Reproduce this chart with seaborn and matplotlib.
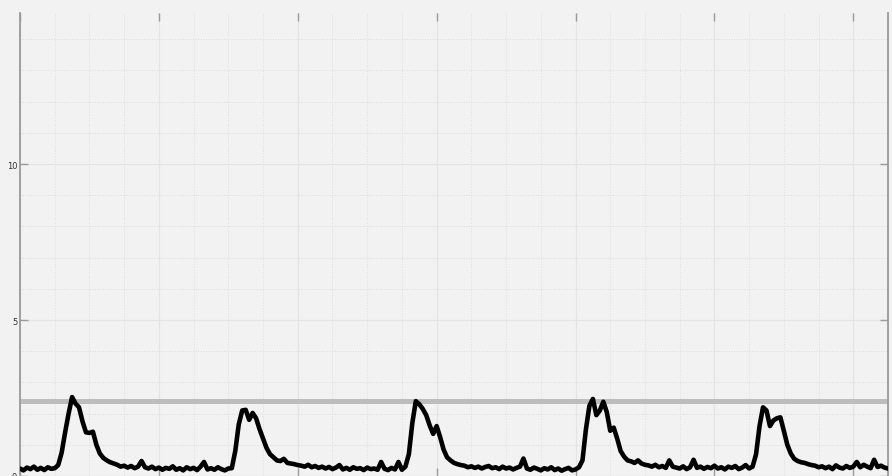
import numpy as np
import matplotlib
matplotlib.use("Agg")
import matplotlib.pyplot as plt
import seaborn as sns
from matplotlib.ticker import MultipleLocator

# sampling step of the trace (seconds)
SAMPLE_STEP = 0.25
THRESHOLD = 2.4

X_LIMITS = (0, 62.5)
Y_LIMITS = (0, 14.84)

# trace values (baseline / peak segments)
baseline_a = [0.24, 0.18, 0.27, 0.22, 0.30, 0.20, 0.26, 0.19, 0.28, 0.23]
peak_1 = [0.25, 0.35, 0.75, 1.40, 2.00, 2.53, 2.32, 2.20, 1.75, 1.40, 1.38,
          1.42, 1.00, 0.72, 0.58, 0.50, 0.44, 0.40, 0.36, 0.30, 0.33]
baseline_b = [0.27, 0.32, 0.25, 0.30, 0.48, 0.28, 0.24, 0.30, 0.22, 0.27,
              0.20, 0.26, 0.23, 0.31, 0.20, 0.25, 0.18, 0.28, 0.22, 0.26,
              0.19, 0.30, 0.45, 0.21, 0.25, 0.20, 0.28, 0.22, 0.18, 0.24]
peak_2 = [0.25, 0.80, 1.65, 2.10, 2.12, 1.80, 2.02, 1.85, 1.50, 1.20,
          0.90, 0.70, 0.60, 0.50, 0.48, 0.55, 0.42, 0.40, 0.38, 0.35]
baseline_c = [0.33, 0.30, 0.36, 0.28, 0.32, 0.26, 0.30, 0.24, 0.29, 0.22,
              0.27, 0.35, 0.21, 0.26, 0.20, 0.28, 0.23, 0.25, 0.19, 0.27,
              0.22, 0.24, 0.20, 0.45, 0.23, 0.19, 0.26, 0.21, 0.45, 0.20]
peak_3 = [0.30, 0.70, 1.70, 2.40, 2.30, 2.15, 1.95, 1.62, 1.35, 1.60,
          1.25, 0.85, 0.60, 0.50, 0.42, 0.38, 0.35]
baseline_d = [0.33, 0.28, 0.31, 0.26, 0.30, 0.24, 0.29, 0.32, 0.25, 0.28,
              0.22, 0.30, 0.24, 0.27, 0.21, 0.26, 0.30, 0.56, 0.24, 0.20,
              0.27, 0.23, 0.18, 0.25, 0.21, 0.28, 0.19, 0.24, 0.17, 0.22,
              0.26, 0.18, 0.21]
peak_4 = [0.28, 0.50, 1.50, 2.25, 2.47, 1.95, 2.10, 2.38, 2.05, 1.45,
          1.55, 1.20, 0.80, 0.62, 0.50, 0.47, 0.42, 0.50, 0.40, 0.36]
baseline_e = [0.34, 0.30, 0.36, 0.28, 0.32, 0.26, 0.50, 0.30, 0.27, 0.24,
              0.31, 0.22, 0.28, 0.52, 0.26, 0.30, 0.23, 0.29, 0.25, 0.33,
              0.24, 0.28, 0.21, 0.30, 0.26, 0.32, 0.22, 0.27, 0.35, 0.24]
peak_5 = [0.30, 0.70, 1.60, 2.20, 2.10, 1.60, 1.78, 1.85, 1.88, 1.45,
          1.00, 0.72, 0.55, 0.48, 0.44, 0.42, 0.38, 0.35]
baseline_f = [0.33, 0.28, 0.31, 0.25, 0.30, 0.22, 0.34, 0.27, 0.24, 0.32,
              0.26, 0.30, 0.45, 0.28, 0.36, 0.30, 0.25, 0.52, 0.29, 0.33,
              0.27, 0.24]

BG = '#f2f2f2'


def build_signal():
    parts = [baseline_a, peak_1, baseline_b, peak_2, baseline_c, peak_3,
             baseline_d, peak_4, baseline_e, peak_5, baseline_f]
    values = []
    for p in parts:
        values.extend(p)
    return np.array(values)


def plot_trace(signal):
    sns.set_theme(style="whitegrid")
    plt.rcParams['font.family'] = ['DejaVu Sans']

    fig = plt.figure(figsize=(8.92, 4.77), dpi=100, facecolor=BG)
    ax = fig.add_axes([20 / 892, 0.0, 868 / 892, 463 / 477])
    ax.set_facecolor(BG)

    t = np.arange(len(signal)) * SAMPLE_STEP

    ax.axhline(THRESHOLD, color='#bdbdbd', linewidth=3.6, zorder=2)
    sns.lineplot(x=t, y=signal, ax=ax, color='black', linewidth=3.3,
                 zorder=3, solid_joinstyle='round')

    ax.set_xlim(*X_LIMITS)
    ax.set_ylim(*Y_LIMITS)
    ax.xaxis.set_major_locator(MultipleLocator(10))
    ax.xaxis.set_minor_locator(MultipleLocator(2.5))
    ax.yaxis.set_major_locator(MultipleLocator(5))
    ax.yaxis.set_minor_locator(MultipleLocator(1))

    ax.grid(which='major', color='#e4e4e4', linewidth=0.9, linestyle='-')
    ax.grid(which='minor', color='#dddddd', linewidth=0.7, linestyle=':')
    ax.set_axisbelow(True)

    ax.tick_params(which='major', direction='in', length=6, width=1.0,
                   color='#9a9a9a', top=True, bottom=True, left=True,
                   right=True, labelsize=6, labelcolor='#333333', pad=2)
    ax.tick_params(which='minor', length=0)
    ax.tick_params(axis='x', labelbottom=False)

    for side in ['left', 'right']:
        ax.spines[side].set_visible(True)
        ax.spines[side].set_color('#9a9a9a')
        ax.spines[side].set_linewidth(1.3)
    ax.spines['top'].set_visible(False)
    ax.spines['bottom'].set_visible(False)

    ax.set_xlabel('')
    ax.set_ylabel('')

    fig.savefig('out.png', dpi=100, facecolor=BG)


def main():
    signal = build_signal()
    plot_trace(signal)


if __name__ == "__main__":
    main()
